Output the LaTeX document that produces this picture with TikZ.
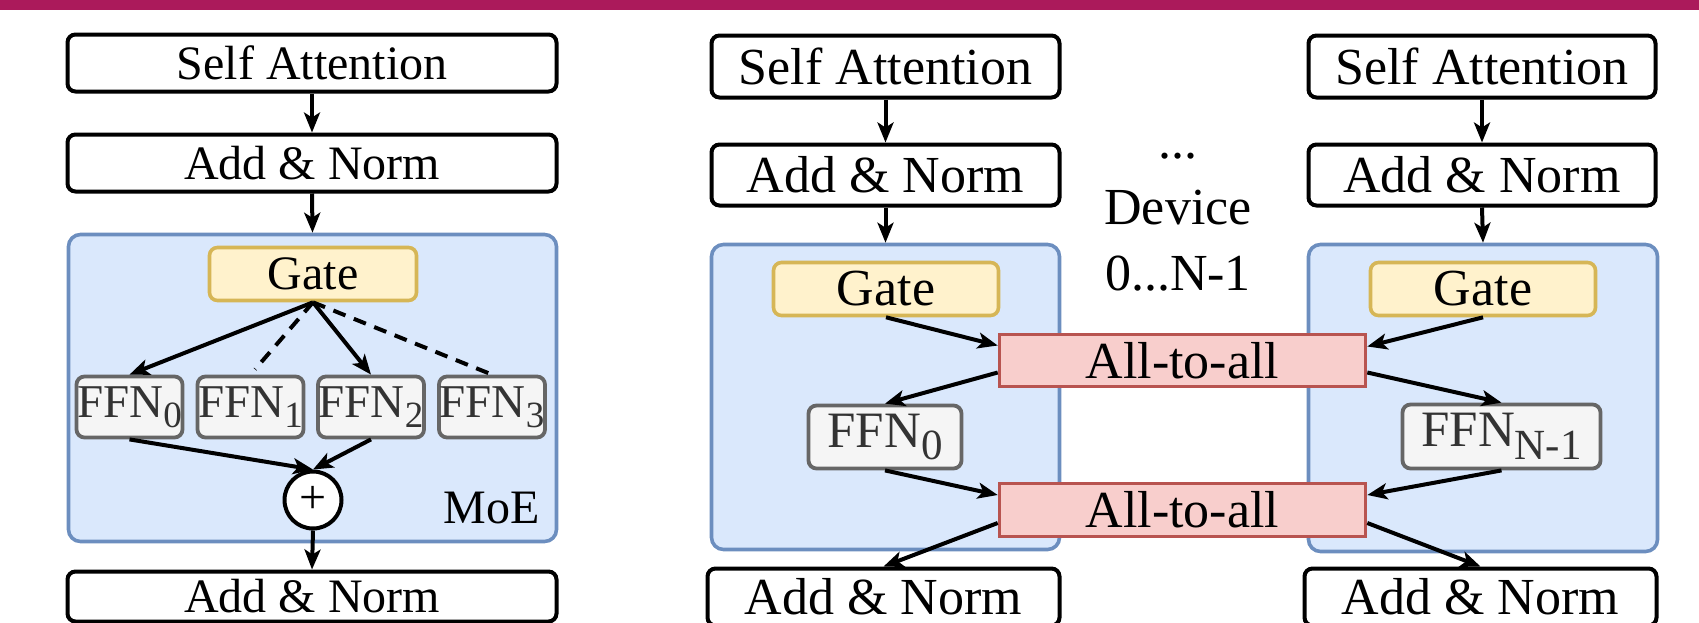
\documentclass[tikz,border=0pt]{standalone}
\usepackage{fontspec}
\setmainfont{Liberation Serif}
\usetikzlibrary{arrows.meta,calc}
\definecolor{barred}{HTML}{AB1A5B}
\definecolor{moefill}{HTML}{DAE8FC}
\definecolor{moeline}{HTML}{6C8EBF}
\definecolor{gatefill}{HTML}{FFF2CC}
\definecolor{gateline}{HTML}{D6B656}
\definecolor{ffnfill}{HTML}{F5F5F5}
\definecolor{ffnline}{HTML}{666666}
\definecolor{ffntext}{HTML}{333333}
\definecolor{atafill}{HTML}{F8CECC}
\definecolor{ataline}{HTML}{B85450}
\newcommand{\sz}[1]{\fontsize{#1}{#1}\selectfont}
\newcommand{\ffn}[3]{FFN\raisebox{-#3pt}{\fontsize{#2}{#2}\selectfont #1}}
\begin{document}
\begin{tikzpicture}[x=1pt,y=-1pt,
  layer/.style={draw,line width=4pt,rounded corners=8pt,inner sep=0pt,fill=white},
  moebox/.style={draw=moeline,fill=moefill,line width=3.6pt,rounded corners=12pt,inner sep=0pt},
  gatebox/.style={draw=gateline,fill=gatefill,line width=3.6pt,rounded corners=8pt,inner sep=0pt},
  ffnbox/.style={draw=ffnline,fill=ffnfill,text=ffntext,line width=3.8pt,rounded corners=8pt,inner sep=0pt},
  atabox/.style={draw=ataline,fill=atafill,line width=3.6pt,inner sep=0pt},
  flow/.style={line width=4pt,-{Stealth[length=20pt,width=16pt,inset=5pt]}},
  idle/.style={line width=4pt,dash pattern=on 13pt off 9pt}]
  \useasboundingbox (0,0) rectangle (1699,622);
  \clip (0,0) rectangle (1699,622);
  \fill[barred] (0,0) rectangle (1699,9.5);

  \node[layer,minimum width=489pt,minimum height=57pt,font=\sz{48}] (sa0) at (312,63) {Self Attention};
  \node[layer,minimum width=489pt,minimum height=57pt,font=\sz{48}] (an0) at (312,163) {Add \& Norm};
  \node[moebox,minimum width=488pt,minimum height=307pt] (moe0) at (312.5,388) {};
  \node[gatebox,minimum width=207pt,minimum height=53pt,font=\sz{48}] (gate0) at (313,274) {Gate};
  \node[ffnbox,minimum width=106pt,minimum height=61pt,font=\sz{47}] (ffnA) at (129.5,407) {\ffn{0}{37}{10}};
  \node[ffnbox,minimum width=106pt,minimum height=61pt,font=\sz{47}] (ffnB) at (250.5,407) {\ffn{1}{37}{10}};
  \node[ffnbox,minimum width=106pt,minimum height=61pt,font=\sz{47}] (ffnC) at (371,407) {\ffn{2}{37}{10}};
  \node[ffnbox,minimum width=106pt,minimum height=61pt,font=\sz{47}] (ffnD) at (492,407) {\ffn{3}{37}{10}};
  \node[circle,draw,line width=4pt,fill=white,minimum size=57pt,inner sep=0pt,font=\sz{48}] (sum0) at (313,500) {+};
  \node[anchor=base east,font=\sz{48}] (moelbl) at (543,523) {MoE};
  \node[layer,minimum width=489pt,minimum height=50pt,font=\sz{48}] (out0) at (312,596.5) {Add \& Norm};

  \draw[flow] (sa0) -- (an0);
  \draw[flow] (an0.south) -- (moe0.north);
  \draw[flow] (gate0.south) -- (ffnA.north);
  \draw[idle,shorten >=7pt] (gate0.south) -- (ffnB.north);
  \draw[flow] (gate0.south) -- (ffnC.north);
  \draw[idle,shorten >=3pt] (gate0.south) -- (ffnD.north);
  \draw[flow] (ffnA.south) -- (sum0.north);
  \draw[flow] (ffnC.south) -- (sum0.north);
  \draw[flow] (sum0.south) -- (out0.north);

  \node[layer,minimum width=348pt,minimum height=62pt,font=\sz{52}] (sa1) at (885.5,66.5) {Self Attention};
  \node[layer,minimum width=348pt,minimum height=61pt,font=\sz{52}] (an1) at (885.5,175) {Add \& Norm};
  \node[moebox,minimum width=348pt,minimum height=305pt] (dev1) at (885.5,397) {};
  \node[gatebox,minimum width=225pt,minimum height=53pt,font=\sz{52}] (gate1) at (886,289) {Gate};
  \node[ffnbox,minimum width=153pt,minimum height=63pt,font=\sz{51}] (ffn1) at (885,437) {\ffn{0}{43}{12}};
  \node[layer,minimum width=352pt,minimum height=57pt,font=\sz{52}] (out1) at (883.5,597) {Add \& Norm};

  \node[layer,minimum width=347pt,minimum height=62pt,font=\sz{52}] (sa2) at (1482,66.5) {Self Attention};
  \node[layer,minimum width=347pt,minimum height=61pt,font=\sz{52}] (an2) at (1482,175) {Add \& Norm};
  \node[moebox,minimum width=349pt,minimum height=307pt] (dev2) at (1483,398) {};
  \node[gatebox,minimum width=225pt,minimum height=53pt,font=\sz{52}] (gate2) at (1483,289) {Gate};
  \node[ffnbox,minimum width=198pt,minimum height=64pt,font=\sz{51}] (ffn2) at (1501.5,436.5) {\ffn{N-1}{43}{13}};
  \node[layer,minimum width=352pt,minimum height=57pt,font=\sz{52}] (out2) at (1480.5,597) {Add \& Norm};

  \node[atabox,minimum width=366pt,minimum height=52pt,font=\sz{52}] (ata0) at (1182.5,360.5) {All-to-all};
  \node[atabox,minimum width=366pt,minimum height=53pt,font=\sz{52}] (ata1) at (1182.5,510) {All-to-all};
  \node[align=center,anchor=base,font=\fontsize{52}{66}\selectfont] (devs) at (1178,290) {...\\Device\\0...N-1};

  \draw[flow] (sa1) -- (an1);
  \draw[flow] (an1.south) -- (dev1.north);
  \draw[flow] (gate1.south) -- ($(ata0.west)+(0,-15)$);
  \draw[flow] ($(ata0.west)+(0,12)$) -- (ffn1.north);
  \draw[flow] (ffn1.south) -- ($(ata1.west)+(0,-15)$);
  \draw[flow] ($(ata1.west)+(0,13)$) -- (out1.north);

  \draw[flow] (sa2) -- (an2);
  \draw[flow] (an2.south) -- (dev2.north);
  \draw[flow] (gate2.south) -- ($(ata0.east)+(0,-14)$);
  \draw[flow] ($(ata0.east)+(0,12)$) -- (ffn2.north);
  \draw[flow] (ffn2.south) -- ($(ata1.east)+(0,-15)$);
  \draw[flow] ($(ata1.east)+(0,13)$) -- (out2.north);
\end{tikzpicture}
\end{document}
